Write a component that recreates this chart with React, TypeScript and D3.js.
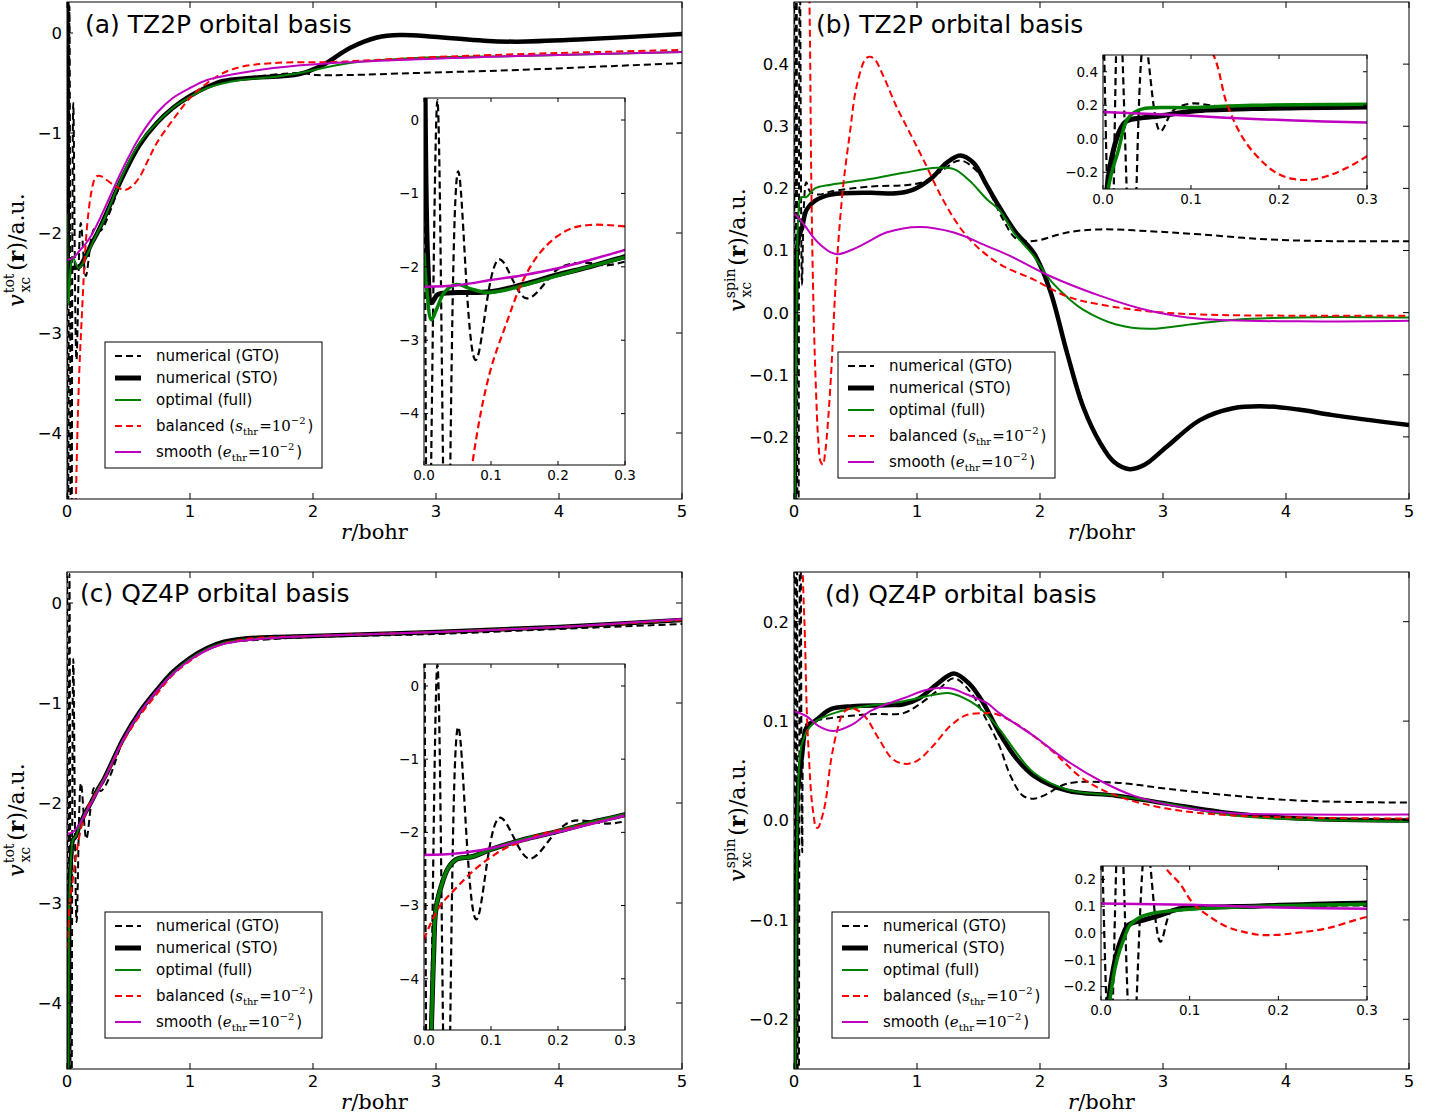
import React from "react";
import * as d3 from "d3";

type Pt = [number, number];

// ---------- tick values ----------
const xTicksMain = [0, 1, 2, 3, 4, 5];
const xTicksInset = [0, 0.1, 0.2, 0.3];
const yTicksTot = [-4, -3, -2, -1, 0];
const yTicksSpinB = [-0.2, -0.1, 0, 0.1, 0.2, 0.3, 0.4];
const yTicksInsetB = [-0.2, 0, 0.2, 0.4];
const yTicksSpinD = [-0.2, -0.1, 0, 0.1, 0.2];
const yTicksInsetD = [-0.2, -0.1, 0, 0.1, 0.2];

// ---------- panel (a): v_xc^tot, TZ2P ----------
const gtoA: Pt[] = [[0, 5], [0.006, -7], [0.02, 0.27], [0.034, -7], [0.051, -0.7], [0.077, -3.27], [0.112, -1.9], [0.153, -2.43], [0.2, -2.03], [0.22, -1.96], [0.25, -1.95], [0.27, -1.98], [0.3, -1.93], [0.4, -1.62], [0.46, -1.42], [0.59, -1.12], [0.73, -0.9], [0.86, -0.75], [1.0, -0.63], [1.14, -0.54], [1.41, -0.46], [1.89, -0.4], [2.03, -0.42], [2.3, -0.42], [2.84, -0.4], [3.66, -0.37], [5.0, -0.3]];
const stoA: Pt[] = [[0, 4], [0.006, -2.0], [0.011, -2.49], [0.02, -2.38], [0.028, -2.36], [0.05, -2.35], [0.098, -2.34], [0.148, -2.24], [0.198, -2.11], [0.247, -2.0], [0.3, -1.86], [0.46, -1.42], [0.59, -1.12], [0.73, -0.9], [0.86, -0.75], [1.0, -0.63], [1.14, -0.54], [1.27, -0.48], [1.49, -0.45], [1.89, -0.41], [2.08, -0.32], [2.3, -0.15], [2.52, -0.045], [2.71, -0.02], [2.98, -0.037], [3.39, -0.077], [3.66, -0.087], [4.2, -0.063], [5.0, -0.01]];
const optA: Pt[] = [[0, -1.81], [0.004, -2.3], [0.011, -2.72], [0.02, -2.55], [0.03, -2.35], [0.048, -2.24], [0.07, -2.3], [0.093, -2.35], [0.12, -2.32], [0.15, -2.25], [0.2, -2.12], [0.25, -1.99], [0.3, -1.87], [0.46, -1.4], [0.59, -1.1], [0.73, -0.9], [0.86, -0.75], [1.0, -0.64], [1.14, -0.55], [1.41, -0.47], [1.68, -0.44], [1.89, -0.4], [2.3, -0.3], [2.84, -0.25], [3.66, -0.23], [5.0, -0.19]];
const balA: Pt[] = [[0, -10], [0.04, -7.5], [0.073, -4.63], [0.098, -3.45], [0.123, -2.77], [0.148, -2.18], [0.173, -1.81], [0.198, -1.59], [0.222, -1.47], [0.247, -1.43], [0.272, -1.43], [0.3, -1.45], [0.38, -1.52], [0.47, -1.57], [0.53, -1.53], [0.59, -1.44], [0.66, -1.27], [0.73, -1.1], [0.86, -0.87], [1.0, -0.65], [1.14, -0.5], [1.27, -0.4], [1.41, -0.34], [1.68, -0.3], [2.16, -0.29], [2.5, -0.27], [3.0, -0.24], [4.0, -0.2], [5.0, -0.17]];
const smoA: Pt[] = [[0, -2.27], [0.05, -2.25], [0.1, -2.18], [0.15, -2.11], [0.2, -2.02], [0.25, -1.9], [0.3, -1.77], [0.46, -1.34], [0.59, -1.04], [0.73, -0.8], [0.86, -0.65], [1.0, -0.55], [1.14, -0.47], [1.41, -0.4], [1.68, -0.35], [2.16, -0.3], [3.38, -0.24], [5.0, -0.19]];

// ---------- panel (b): v_xc^spin, TZ2P ----------
const gtoB: Pt[] = [[0, 0.9], [0.009, -0.9], [0.018, 0.9], [0.033, -0.9], [0.047, 0.6], [0.065, 0.045], [0.08, 0.17], [0.1, 0.21], [0.13, 0.195], [0.2, 0.19], [0.3, 0.195], [0.62, 0.203], [0.89, 0.205], [1.05, 0.21], [1.2, 0.228], [1.35, 0.245], [1.5, 0.225], [1.6, 0.19], [1.7, 0.15], [1.8, 0.12], [1.9, 0.115], [2.0, 0.117], [2.22, 0.129], [2.49, 0.134], [2.89, 0.131], [3.3, 0.126], [3.84, 0.118], [4.38, 0.115], [5.0, 0.115]];
const stoB: Pt[] = [[0, -1.2], [0.0045, -0.3], [0.012, -0.064], [0.0196, 0.056], [0.027, 0.106], [0.046, 0.126], [0.065, 0.136], [0.103, 0.166], [0.17, 0.18], [0.3, 0.19], [0.62, 0.193], [0.83, 0.192], [0.97, 0.198], [1.11, 0.215], [1.24, 0.241], [1.35, 0.253], [1.46, 0.241], [1.57, 0.204], [1.67, 0.17], [1.8, 0.13], [1.95, 0.096], [2.08, 0.037], [2.22, -0.065], [2.35, -0.151], [2.49, -0.21], [2.6, -0.24], [2.73, -0.252], [2.85, -0.245], [3.03, -0.216], [3.3, -0.173], [3.57, -0.154], [3.84, -0.151], [4.1, -0.156], [4.38, -0.165], [5.0, -0.181]];
const optB: Pt[] = [[0, -1.2], [0.006, -0.3], [0.0177, -0.064], [0.027, 0.111], [0.035, 0.156], [0.046, 0.18], [0.065, 0.186], [0.1, 0.186], [0.17, 0.2], [0.3, 0.206], [0.62, 0.215], [0.89, 0.225], [1.16, 0.233], [1.3, 0.231], [1.43, 0.212], [1.57, 0.182], [1.67, 0.165], [1.8, 0.125], [1.95, 0.091], [2.08, 0.053], [2.22, 0.025], [2.35, 0.005], [2.62, -0.019], [2.89, -0.026], [3.3, -0.017], [3.71, -0.01], [4.38, -0.007], [5.0, -0.008]];
const balB: Pt[] = [[0, 1.5], [0.08, 0.9], [0.1256, 0.5], [0.141, 0.206], [0.16, -0.004], [0.1786, -0.124], [0.197, -0.204], [0.216, -0.24], [0.235, -0.245], [0.254, -0.224], [0.273, -0.184], [0.3, -0.104], [0.347, 0.075], [0.4, 0.204], [0.455, 0.29], [0.51, 0.365], [0.59, 0.41], [0.645, 0.41], [0.726, 0.381], [0.83, 0.333], [0.94, 0.29], [1.05, 0.247], [1.21, 0.182], [1.38, 0.129], [1.54, 0.097], [1.7, 0.075], [1.95, 0.053], [2.22, 0.026], [2.49, 0.013], [2.89, 0.002], [3.3, -0.003], [4.11, -0.005], [5.0, -0.005]];
const smoB: Pt[] = [[0, 0.16], [0.07, 0.145], [0.139, 0.126], [0.21, 0.11], [0.3, 0.097], [0.36, 0.094], [0.48, 0.102], [0.62, 0.116], [0.75, 0.129], [1.02, 0.138], [1.3, 0.129], [1.57, 0.107], [1.76, 0.091], [2.08, 0.059], [2.49, 0.027], [2.89, 0.003], [3.3, -0.01], [4.11, -0.014], [5.0, -0.013]];

// ---------- panel (c): v_xc^tot, QZ4P ----------
const gtoC: Pt[] = [[0, 5], [0.006, -7], [0.02, 0.29], [0.034, -7], [0.051, -0.56], [0.078, -3.19], [0.113, -1.8], [0.157, -2.36], [0.198, -1.99], [0.22, -1.85], [0.25, -1.85], [0.272, -1.88], [0.3, -1.85], [0.36, -1.7], [0.46, -1.36], [0.59, -1.1], [0.73, -0.88], [0.86, -0.7], [1.0, -0.56], [1.27, -0.41], [1.68, -0.36], [2.0, -0.34], [3.0, -0.31], [4.0, -0.26], [5.0, -0.21]];
const stoC: Pt[] = [[0, -9], [0.011, -4.7], [0.0144, -3.67], [0.018, -3.03], [0.028, -2.67], [0.036, -2.49], [0.048, -2.37], [0.073, -2.33], [0.098, -2.24], [0.148, -2.1], [0.198, -1.99], [0.247, -1.87], [0.3, -1.76], [0.46, -1.35], [0.59, -1.09], [0.73, -0.87], [0.86, -0.69], [1.0, -0.55], [1.14, -0.45], [1.27, -0.39], [1.41, -0.36], [1.68, -0.34], [2.0, -0.33], [3.0, -0.29], [4.0, -0.24], [5.0, -0.17]];
const optC: Pt[] = [[0, -9], [0.011, -4.7], [0.0144, -3.67], [0.018, -3.03], [0.028, -2.67], [0.036, -2.49], [0.048, -2.37], [0.073, -2.33], [0.098, -2.24], [0.148, -2.1], [0.198, -1.99], [0.247, -1.87], [0.3, -1.76], [0.46, -1.36], [0.59, -1.1], [0.73, -0.88], [0.86, -0.7], [1.0, -0.56], [1.14, -0.46], [1.27, -0.4], [1.41, -0.37], [1.68, -0.345], [2.0, -0.33], [3.0, -0.29], [4.0, -0.24], [5.0, -0.17]];
const balC: Pt[] = [[0, -3.46], [0.022, -3.03], [0.048, -2.76], [0.073, -2.53], [0.098, -2.35], [0.123, -2.21], [0.148, -2.12], [0.173, -2.03], [0.198, -1.98], [0.3, -1.77], [0.46, -1.38], [0.59, -1.13], [0.73, -0.91], [0.86, -0.72], [1.0, -0.58], [1.14, -0.47], [1.41, -0.37], [2.0, -0.33], [3.0, -0.29], [4.0, -0.24], [5.0, -0.17]];
const smoC: Pt[] = [[0, -2.31], [0.048, -2.29], [0.098, -2.22], [0.148, -2.11], [0.198, -2.0], [0.3, -1.77], [0.46, -1.36], [0.59, -1.1], [0.73, -0.88], [0.86, -0.71], [1.0, -0.57], [1.14, -0.47], [1.27, -0.41], [1.41, -0.38], [1.68, -0.35], [2.0, -0.33], [3.0, -0.29], [4.0, -0.24], [5.0, -0.16]];

// ---------- panel (d): v_xc^spin, QZ4P ----------
const gtoD: Pt[] = [[0, 0.5], [0.01, -0.5], [0.021, 0.5], [0.035, -0.5], [0.051, 0.35], [0.067, -0.032], [0.08, 0.085], [0.1, 0.097], [0.157, 0.1], [0.3, 0.103], [0.62, 0.107], [0.89, 0.108], [1.02, 0.117], [1.16, 0.13], [1.3, 0.143], [1.43, 0.13], [1.57, 0.1], [1.67, 0.075], [1.76, 0.045], [1.86, 0.025], [1.95, 0.022], [2.03, 0.025], [2.22, 0.037], [2.62, 0.038], [3.03, 0.032], [3.57, 0.025], [4.11, 0.02], [5.0, 0.018]];
const stoD: Pt[] = [[0, -0.6], [0.0086, -0.25], [0.016, -0.1], [0.024, -0.014], [0.031, 0.03], [0.048, 0.048], [0.067, 0.067], [0.086, 0.088], [0.104, 0.094], [0.179, 0.101], [0.3, 0.112], [0.48, 0.115], [0.75, 0.116], [0.89, 0.117], [1.02, 0.123], [1.16, 0.137], [1.3, 0.148], [1.43, 0.137], [1.54, 0.118], [1.67, 0.088], [1.81, 0.062], [1.95, 0.045], [2.22, 0.03], [2.62, 0.025], [3.03, 0.017], [3.57, 0.007], [4.11, 0.002], [5.0, 0.0]];
const optD: Pt[] = [[0, -0.6], [0.01, -0.25], [0.018, -0.1], [0.026, -0.02], [0.033, 0.03], [0.045, 0.06], [0.06, 0.075], [0.086, 0.085], [0.104, 0.09], [0.179, 0.1], [0.3, 0.107], [0.48, 0.113], [0.89, 0.12], [1.16, 0.127], [1.27, 0.128], [1.43, 0.12], [1.54, 0.11], [1.67, 0.092], [1.81, 0.068], [1.95, 0.048], [2.22, 0.031], [2.62, 0.025], [3.03, 0.017], [3.57, 0.005], [4.11, 0.001], [5.0, -0.001]];
const balD: Pt[] = [[0, 0.8], [0.05, 0.45], [0.072, 0.248], [0.089, 0.184], [0.104, 0.11], [0.123, 0.06], [0.142, 0.023], [0.16, 0.005], [0.179, -0.007], [0.198, -0.007], [0.217, -0.001], [0.254, 0.017], [0.3, 0.06], [0.35, 0.09], [0.4, 0.108], [0.46, 0.113], [0.56, 0.107], [0.7, 0.08], [0.8, 0.062], [0.9, 0.057], [1.0, 0.06], [1.13, 0.075], [1.27, 0.095], [1.4, 0.106], [1.55, 0.108], [1.62, 0.108], [1.81, 0.097], [2.08, 0.072], [2.35, 0.042], [2.62, 0.025], [3.03, 0.012], [3.57, 0.005], [5.0, 0.002]];
const smoD: Pt[] = [[0, 0.11], [0.1, 0.105], [0.2, 0.095], [0.32, 0.09], [0.48, 0.097], [0.62, 0.11], [0.89, 0.123], [1.1, 0.132], [1.27, 0.133], [1.4, 0.127], [1.57, 0.118], [1.67, 0.108], [1.95, 0.085], [2.22, 0.06], [2.49, 0.04], [2.76, 0.025], [3.16, 0.013], [3.57, 0.0074], [4.11, 0.006], [5.0, 0.006]];

// ---------- styles ----------
const seriesKeys = ["gto", "sto", "opt", "bal", "smo"] as const;
type Key = typeof seriesKeys[number];
const styles: Record<Key, { color: string; w: number; iw: number; dash?: string }> = {
  gto: { color: "#000000", w: 2, iw: 2.2, dash: "7,4" },
  sto: { color: "#000000", w: 4.5, iw: 5 },
  opt: { color: "#008000", w: 2, iw: 3.5 },
  bal: { color: "#ff0000", w: 2, iw: 2.2, dash: "7,4" },
  smo: { color: "#bf00bf", w: 2, iw: 2.5 },
};

const SANS = "DejaVu Sans, sans-serif";
const SERIF = "DejaVu Serif, serif";

type Box = { x: number; y: number; w: number; h: number };
type PanelCfg = {
  id: string;
  title: string;
  titleX: number;
  titleY: number;
  box: Box;
  yDomain: [number, number];
  yTicks: number[];
  yDec: number;
  sup: string;
  inset: Box & { yDomain: [number, number]; yTicks: number[]; yDec: number };
  legend: { x: number; y: number };
  data: Record<Key, Pt[]>;
};

const panels: PanelCfg[] = [
  {
    id: "a", title: "(a) TZ2P orbital basis", titleX: 85, titleY: 33,
    box: { x: 67, y: 2, w: 615, h: 497 }, yDomain: [-4.66, 0.31], yTicks: yTicksTot, yDec: 0, sup: "tot",
    inset: { x: 424, y: 98, w: 201, h: 367, yDomain: [-4.7, 0.3], yTicks: yTicksTot, yDec: 0 },
    legend: { x: 105, y: 342 },
    data: { gto: gtoA, sto: stoA, opt: optA, bal: balA, smo: smoA },
  },
  {
    id: "b", title: "(b) TZ2P orbital basis", titleX: 816, titleY: 33,
    box: { x: 794, y: 2, w: 615, h: 497 }, yDomain: [-0.3, 0.5], yTicks: yTicksSpinB, yDec: 1, sup: "spin",
    inset: { x: 1103, y: 55, w: 264, h: 134, yDomain: [-0.3, 0.5], yTicks: yTicksInsetB, yDec: 1 },
    legend: { x: 838, y: 352 },
    data: { gto: gtoB, sto: stoB, opt: optB, bal: balB, smo: smoB },
  },
  {
    id: "c", title: "(c) QZ4P orbital basis", titleX: 80, titleY: 602,
    box: { x: 67, y: 572, w: 615, h: 497 }, yDomain: [-4.66, 0.31], yTicks: yTicksTot, yDec: 0, sup: "tot",
    inset: { x: 424, y: 664, w: 201, h: 366, yDomain: [-4.7, 0.3], yTicks: yTicksTot, yDec: 0 },
    legend: { x: 105, y: 912 },
    data: { gto: gtoC, sto: stoC, opt: optC, bal: balC, smo: smoC },
  },
  {
    id: "d", title: "(d) QZ4P orbital basis", titleX: 825, titleY: 603,
    box: { x: 794, y: 572, w: 615, h: 497 }, yDomain: [-0.25, 0.25], yTicks: yTicksSpinD, yDec: 1, sup: "spin",
    inset: { x: 1101, y: 866, w: 266, h: 134, yDomain: [-0.25, 0.25], yTicks: yTicksInsetD, yDec: 1 },
    legend: { x: 832, y: 912 },
    data: { gto: gtoD, sto: stoD, opt: optD, bal: balD, smo: smoD },
  },
];

function fmt(d: number, dec: number) {
  const s = dec === 0 ? String(Math.round(d)) : d.toFixed(dec);
  return s.replace("-", "\u2212");
}

function Axes(props: {
  id: string; box: Box; xDomain: [number, number]; yDomain: [number, number];
  xTicks: number[]; yTicks: number[]; xDec: number; yDec: number;
  data: Record<Key, Pt[]>; inset: boolean;
}) {
  const { id, box, xDomain, yDomain, xTicks, yTicks, xDec, yDec, data, inset } = props;
  const x = d3.scaleLinear().domain(xDomain).range([box.x, box.x + box.w]);
  const y = d3.scaleLinear().domain(yDomain).range([box.y + box.h, box.y]);
  const line = d3.line<Pt>().x((d) => x(d[0])).y((d) => y(d[1])).curve(d3.curveCatmullRom.alpha(0.5));
  const tl = inset ? 4 : 6;
  const fs = inset ? 13.5 : 16.5;
  const clipId = `clip-${id}`;
  return (
    <g>
      <defs>
        <clipPath id={clipId}>
          <rect x={box.x} y={box.y} width={box.w} height={box.h} />
        </clipPath>
      </defs>
      <rect x={box.x} y={box.y} width={box.w} height={box.h} fill="#fff" />
      <g clipPath={`url(#${clipId})`}>
        {seriesKeys.map((k) => {
          const st = styles[k];
          const pts = inset ? data[k].filter((p, i, arr) => p[0] <= 0.31 || (i > 0 && arr[i - 1][0] <= 0.31)) : data[k];
          return (
            <path key={k} d={line(pts) || ""} fill="none" stroke={st.color}
              strokeWidth={inset ? st.iw : st.w} strokeDasharray={st.dash}
              strokeLinejoin="round" />
          );
        })}
      </g>
      <rect x={box.x} y={box.y} width={box.w} height={box.h} fill="none" stroke="#000" strokeWidth={1} />
      {xTicks.map((t) => (
        <g key={`x${t}`}>
          <line x1={x(t)} x2={x(t)} y1={box.y + box.h} y2={box.y + box.h - tl} stroke="#000" />
          <line x1={x(t)} x2={x(t)} y1={box.y} y2={box.y + tl} stroke="#000" />
          <text x={x(t)} y={box.y + box.h + (inset ? 15 : 18)} textAnchor="middle" fontFamily={SANS} fontSize={fs}>
            {fmt(t, xDec)}
          </text>
        </g>
      ))}
      {yTicks.map((t) => (
        <g key={`y${t}`}>
          <line x1={box.x} x2={box.x + tl} y1={y(t)} y2={y(t)} stroke="#000" />
          <line x1={box.x + box.w} x2={box.x + box.w - tl} y1={y(t)} y2={y(t)} stroke="#000" />
          <text x={box.x - 5} y={y(t)} dy="0.36em" textAnchor="end" fontFamily={SANS} fontSize={fs}>
            {fmt(t, yDec)}
          </text>
        </g>
      ))}
    </g>
  );
}

function Legend({ x, y }: { x: number; y: number }) {
  const rows = [14, 36, 58, 84, 110];
  const fs = 15;
  return (
    <g>
      <rect x={x} y={y} width={217} height={126} fill="#fff" stroke="#000" strokeWidth={1} />
      {seriesKeys.map((k, i) => {
        const st = styles[k];
        const cy = y + rows[i];
        return (
          <g key={k}>
            <line x1={x + 10} x2={x + 36} y1={cy} y2={cy} stroke={st.color} strokeWidth={st.w === 4.5 ? 5 : 2}
              strokeDasharray={st.dash} />
            {k === "bal" ? (
              <text x={x + 51} y={cy + 5} fontFamily={SANS} fontSize={fs}>
                balanced (
                <tspan fontFamily={SERIF} fontStyle="italic">s</tspan>
                <tspan fontFamily={SERIF} fontSize={10} dy={4}>thr</tspan>
                <tspan fontFamily={SERIF} dy={-4} dx={1}>=10</tspan>
                <tspan fontFamily={SERIF} fontSize={10} dy={-7}>{"\u22122"}</tspan>
                <tspan dy={7} dx={2}>)</tspan>
              </text>
            ) : k === "smo" ? (
              <text x={x + 51} y={cy + 5} fontFamily={SANS} fontSize={fs}>
                smooth (
                <tspan fontFamily={SERIF} fontStyle="italic">e</tspan>
                <tspan fontFamily={SERIF} fontSize={10} dy={4}>thr</tspan>
                <tspan fontFamily={SERIF} dy={-4} dx={1}>=10</tspan>
                <tspan fontFamily={SERIF} fontSize={10} dy={-7}>{"\u22122"}</tspan>
                <tspan dy={7} dx={2}>)</tspan>
              </text>
            ) : (
              <text x={x + 51} y={cy + 5} fontFamily={SANS} fontSize={fs}>
                {k === "gto" ? "numerical (GTO)" : k === "sto" ? "numerical (STO)" : "optimal (full)"}
              </text>
            )}
          </g>
        );
      })}
    </g>
  );
}

function YLabel({ cx, cy, sup }: { cx: number; cy: number; sup: string }) {
  const supW = sup === "tot" ? 19 : 29;
  const xcW = 16;
  return (
    <text transform={`translate(${cx},${cy}) rotate(-90)`} textAnchor="middle" fontFamily={SERIF} fontSize={22}>
      <tspan fontStyle="italic">v</tspan>
      <tspan fontSize={14} dy={-10} dx={1}>{sup}</tspan>
      <tspan fontSize={14} dx={-supW} dy={16}>xc</tspan>
      <tspan dy={-6} dx={supW - xcW + 3}>(</tspan>
      <tspan fontWeight="bold">r</tspan>
      <tspan>)/a.u.</tspan>
    </text>
  );
}

function Panel({ p }: { p: PanelCfg }) {
  const b = p.box;
  return (
    <g>
      <Axes id={`${p.id}m`} box={b} xDomain={[0, 5]} yDomain={p.yDomain} xTicks={xTicksMain}
        yTicks={p.yTicks} xDec={0} yDec={p.yDec} data={p.data} inset={false} />
      <text x={p.titleX} y={p.titleY} fontFamily={SANS} fontSize={25}>{p.title}</text>
      <text x={b.x + b.w / 2} y={b.y + b.h + 40} textAnchor="middle" fontFamily={SERIF} fontSize={21}>
        <tspan fontStyle="italic">r</tspan>/bohr
      </text>
      <YLabel cx={p.sup === "tot" ? b.x - 43 : b.x - 49} cy={b.y + 248} sup={p.sup} />
      <Legend x={p.legend.x} y={p.legend.y} />
      <Axes id={`${p.id}i`} box={p.inset} xDomain={[0, 0.3]} yDomain={p.inset.yDomain} xTicks={xTicksInset}
        yTicks={p.inset.yTicks} xDec={1} yDec={p.inset.yDec} data={p.data} inset={true} />
    </g>
  );
}

export default function App() {
  return (
    <svg width={1436} height={1119} style={{ position: "absolute", left: 0, top: 0, background: "#fff" }}>
      <rect x={0} y={0} width={1436} height={1119} fill="#fff" />
      {panels.map((p) => (
        <Panel key={p.id} p={p} />
      ))}
    </svg>
  );
}
